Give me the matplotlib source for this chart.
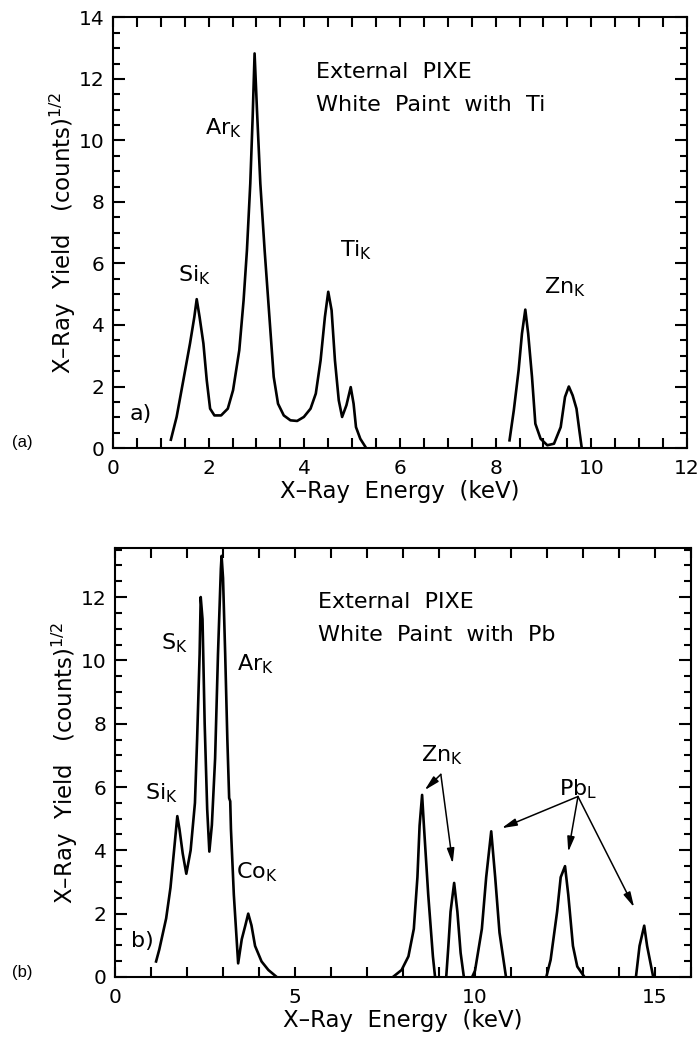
import matplotlib.pyplot as plt
from matplotlib.ticker import MultipleLocator

# panel (a): white paint with Ti, two measured segments
a_x1 = [1.21, 1.33, 1.47, 1.61, 1.70, 1.75, 1.81, 1.89, 1.96, 2.03, 2.12, 2.26, 2.40, 2.51,
        2.64, 2.73, 2.80, 2.87, 2.92, 2.96, 3.01, 3.08, 3.17, 3.27, 3.36, 3.45, 3.57, 3.71,
        3.85, 3.99, 4.13, 4.24, 4.34, 4.43, 4.50, 4.57, 4.64, 4.72, 4.79, 4.88, 4.97, 5.03,
        5.08, 5.17, 5.28]
a_y1 = [0.27, 1.01, 2.20, 3.40, 4.26, 4.84, 4.26, 3.40, 2.20, 1.28, 1.06, 1.06, 1.28, 1.88,
        3.18, 4.80, 6.43, 8.60, 10.77, 12.83, 10.99, 8.60, 6.43, 4.26, 2.31, 1.44, 1.06, 0.90,
        0.88, 1.01, 1.28, 1.77, 2.85, 4.26, 5.08, 4.48, 2.85, 1.55, 1.01, 1.39, 1.98, 1.44,
        0.68, 0.30, 0.03]
a_x2 = [8.29, 8.38, 8.48, 8.55, 8.62, 8.68, 8.76, 8.83, 8.94, 9.08, 9.22, 9.36, 9.45, 9.53,
        9.61, 9.69, 9.75, 9.80]
a_y2 = [0.25, 1.23, 2.53, 3.72, 4.50, 3.72, 2.31, 0.79, 0.30, 0.09, 0.14, 0.68, 1.66, 2.00,
        1.71, 1.28, 0.57, 0.00]

# panel (b): white paint with Pb
b_x1 = [1.14, 1.23, 1.42, 1.54, 1.64, 1.73, 1.79, 1.88, 1.98, 2.10, 2.22, 2.28, 2.35, 2.38,
        2.43, 2.49, 2.56, 2.62, 2.69, 2.78, 2.86, 2.94, 2.96, 3.00, 3.06, 3.12, 3.17, 3.20,
        3.22, 3.30, 3.42, 3.52, 3.62, 3.70, 3.79, 3.89, 4.07, 4.26, 4.47]
b_y1 = [0.49, 0.87, 1.85, 2.82, 4.00, 5.08, 4.67, 3.90, 3.26, 4.00, 5.50, 7.50, 10.20, 12.00,
        11.30, 8.00, 5.30, 3.96, 4.80, 6.90, 10.20, 12.90, 13.30, 12.60, 10.20, 7.50, 5.65,
        5.55, 4.67, 2.60, 0.43, 1.19, 1.63, 2.00, 1.63, 0.98, 0.49, 0.22, 0.02]
b_zn_a_x = [7.72, 7.96, 8.15, 8.30, 8.40, 8.46, 8.53, 8.58, 8.70, 8.83, 8.89]
b_zn_a_y = [0.00, 0.22, 0.65, 1.52, 3.15, 4.78, 5.75, 4.78, 2.60, 0.65, 0.00]
b_zn_b_x = [9.20, 9.26, 9.32, 9.42, 9.51, 9.60, 9.69]
b_zn_b_y = [0.00, 0.98, 2.06, 2.97, 2.06, 0.76, 0.00]
b_pb_a_x = [9.92, 10.00, 10.19, 10.31, 10.45, 10.56, 10.68, 10.86]
b_pb_a_y = [0.00, 0.20, 1.52, 3.15, 4.60, 3.15, 1.40, 0.00]
b_pb_b_x = [11.98, 12.10, 12.28, 12.38, 12.50, 12.59, 12.72, 12.84, 13.04]
b_pb_b_y = [0.00, 0.54, 2.06, 3.15, 3.50, 2.60, 0.98, 0.33, 0.00]
b_pb_g_x = [14.47, 14.57, 14.70, 14.78, 14.95]
b_pb_g_y = [0.00, 0.98, 1.62, 0.98, 0.00]

# arrows: (tail x, tail y) -> (head x, head y)
zn_tail = (9.05, 6.40)
zn_heads = [(8.60, 5.90), (9.38, 3.58)]
pb_tail = (12.86, 5.70)
pb_heads = [(10.74, 4.70), (12.59, 3.95), (14.42, 2.20)]

FS = 16
plt.rcParams['font.family'] = ['DejaVu Sans']
plt.rcParams['mathtext.fontset'] = 'dejavusans'

fig = plt.figure(figsize=(6.98, 10.39), dpi=100)
ax1 = fig.add_axes([0.1619, 0.5688, 0.8223, 0.4144])
ax2 = fig.add_axes([0.1648, 0.0597, 0.8252, 0.4129])

lw = 1.9
ax1.plot(a_x1, a_y1, color='black', lw=lw)
ax1.plot(a_x2, a_y2, color='black', lw=lw)
for xs, ys in [(b_x1, b_y1), (b_zn_a_x, b_zn_a_y), (b_zn_b_x, b_zn_b_y),
               (b_pb_a_x, b_pb_a_y), (b_pb_b_x, b_pb_b_y), (b_pb_g_x, b_pb_g_y)]:
    ax2.plot(xs, ys, color='black', lw=lw)

ax1.set_xlim(0, 12)
ax1.set_ylim(0, 14)
ax2.set_xlim(0, 16)
ax2.set_ylim(0, 13.55)

ax1.xaxis.set_major_locator(MultipleLocator(2))
ax1.xaxis.set_minor_locator(MultipleLocator(0.5))
ax2.xaxis.set_major_locator(MultipleLocator(5))
ax2.xaxis.set_minor_locator(MultipleLocator(1))
for ax in (ax1, ax2):
    ax.yaxis.set_major_locator(MultipleLocator(2))
    ax.yaxis.set_minor_locator(MultipleLocator(0.5))
    ax.tick_params(which='both', direction='in', top=True, right=True, width=1.5,
                   labelsize=14.5)
    ax.tick_params(axis='y', which='major', length=8.5, pad=6)
    ax.tick_params(axis='y', which='minor', length=5)
    ax.tick_params(axis='x', which='both', length=7, pad=8)
    for s in ax.spines.values():
        s.set_linewidth(1.5)
    ax.set_xlabel('X–Ray  Energy  (keV)', fontsize=16.5)
    ax.set_ylabel(r'X–Ray  Yield   (counts)$^{1/2}$', fontsize=16.5, va='center')
    ax.yaxis.set_label_coords(-0.087, 0.5)
    ax.xaxis.set_label_coords(0.5, -0.075)

# panel a texts
ax1.text(4.25, 12.23, 'External  PIXE', fontsize=FS, va='center')
ax1.text(4.25, 11.15, 'White  Paint  with  Ti', fontsize=FS, va='center')
ax1.text(1.92, 10.39, r'Ar$_{\rm K}$', fontsize=FS, va='center')
ax1.text(1.36, 5.62, r'Si$_{\rm K}$', fontsize=FS, va='center')
ax1.text(4.74, 6.43, r'Ti$_{\rm K}$', fontsize=FS, va='center')
ax1.text(9.02, 5.24, r'Zn$_{\rm K}$', fontsize=FS, va='center')
ax1.text(0.35, 1.12, 'a)', fontsize=FS, va='center')

# panel b texts
ax2.text(5.65, 11.83, 'External  PIXE', fontsize=FS, va='center')
ax2.text(5.65, 10.80, 'White  Paint  with  Pb', fontsize=FS, va='center')
ax2.text(1.27, 10.53, r'S$_{\rm K}$', fontsize=FS, va='center')
ax2.text(3.40, 9.88, r'Ar$_{\rm K}$', fontsize=FS, va='center')
ax2.text(0.84, 5.80, r'Si$_{\rm K}$', fontsize=FS, va='center')
ax2.text(3.37, 3.31, r'Co$_{\rm K}$', fontsize=FS, va='center')
ax2.text(0.43, 1.14, 'b)', fontsize=FS, va='center')
ax2.text(8.49, 7.00, r'Zn$_{\rm K}$', fontsize=FS, va='center')
ax2.text(12.32, 5.92, r'Pb$_{\rm L}$', fontsize=FS, va='center')

arrow_style = dict(arrowstyle='-|>,head_length=0.9,head_width=0.22', color='black', lw=1.1,
                   shrinkA=0, shrinkB=0)
for hx, hy in zn_heads:
    ax2.annotate('', xy=(hx, hy), xytext=zn_tail, arrowprops=arrow_style)
for hx, hy in pb_heads:
    ax2.annotate('', xy=(hx, hy), xytext=pb_tail, arrowprops=arrow_style)

fig.text(22 / 698, 1 - 443 / 1039, '(a)', fontsize=12, family='Liberation Sans',
         ha='center', va='center')
fig.text(22 / 698, 1 - 973 / 1039, '(b)', fontsize=12, family='Liberation Sans',
         ha='center', va='center')

fig.savefig('out.png', dpi=100)
